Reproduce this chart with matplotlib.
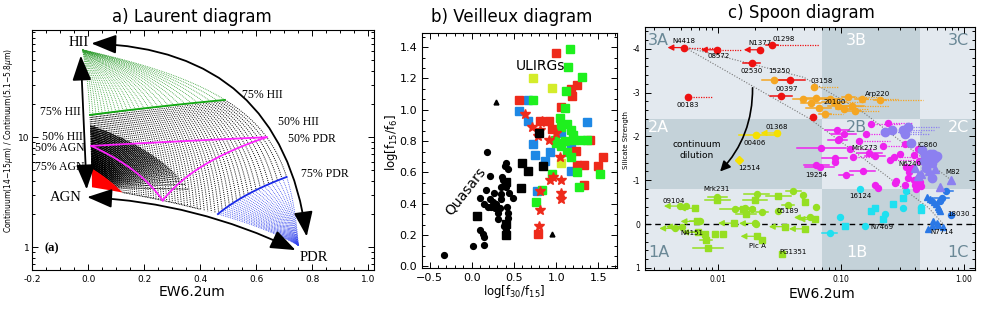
"""Three mid-IR AGN/starburst diagnostic diagrams side by side."""

import numpy as np
import matplotlib

matplotlib.use("Agg")
import matplotlib.pyplot as plt  # noqa: E402
from matplotlib.patches import FancyArrowPatch, Rectangle  # noqa: E402
from matplotlib.ticker import AutoMinorLocator, FixedLocator, LogLocator, NullFormatter  # noqa: E402

plt.rcParams["axes.unicode_minus"] = False

W, H = 981, 316

# ---------------- a) Laurent diagram: end members (AGN, HII, PDR)
END_X = [0.014, -0.02, 0.75]    # EW6.2um
END_Y = [3.5, 62.0, 1.04]       # Continuum(14-15um)/Continuum(5.1-5.8um)
END_W = [11.15, 1.0, 5.82]      # relative weight of each component

# ---------------- b) Veilleux diagram
qso_circ_x = [-0.33, 0.02, 0.15, 0.10, 0.13, 0.15, 0.18, 0.15, 0.21, 0.17, 0.22, 0.23, 0.25,
              0.29, 0.28, 0.31, 0.31, 0.33, 0.34, 0.35, 0.35, 0.37, 0.36, 0.39, 0.41, 0.43,
              0.41, 0.44, 0.49, 0.42, 0.43, 0.43, 0.38, 0.41, 0.26, 0.10, 0.19]
qso_circ_y = [0.07, 0.13, 0.14, 0.23, 0.21, 0.19, 0.73, 0.40, 0.43, 0.49, 0.58, 0.38, 0.41,
              0.40, 0.37, 0.34, 0.30, 0.37, 0.43, 0.46, 0.51, 0.55, 0.57, 0.64, 0.66, 0.62,
              0.51, 0.47, 0.44, 0.38, 0.34, 0.31, 0.26, 0.23, 0.47, 0.44, 0.38]
qso_sq_x = [0.065, 0.40, 0.40, 0.41, 0.58, 0.60, 0.67, 0.84, 0.80]
qso_sq_y = [0.32, 0.54, 0.27, 0.20, 0.50, 0.66, 0.61, 0.64, 0.85]
qso_tri_x = [0.29, 0.95]
qso_tri_y = [1.05, 0.21]
red_sq_x = [1.00, 0.56, 1.25, 1.19, 1.17, 1.06, 0.91, 0.81, 1.40, 1.33, 1.25, 1.50, 1.56,
            1.33, 0.79, 1.06, 1.23, 0.95]
red_sq_y = [1.36, 1.06, 1.16, 1.09, 1.13, 1.02, 0.93, 0.93, 0.81, 0.65, 0.65, 0.64, 0.70,
            0.52, 0.21, 0.78, 0.74, 0.88]
grn_sq_x = [1.16, 1.14, 1.31, 1.12, 0.72, 1.10, 1.04, 1.13, 1.06, 1.17, 0.98, 1.10, 1.21,
            1.29, 1.37, 1.06, 1.13, 1.17, 1.25, 1.27, 1.52, 0.95, 0.83, 0.76, 1.00, 1.20]
grn_sq_y = [1.39, 1.27, 1.21, 1.12, 1.06, 1.01, 0.95, 0.91, 0.89, 0.87, 0.81, 0.80, 0.81,
            0.81, 0.81, 0.77, 0.73, 0.70, 0.60, 0.51, 0.59, 0.59, 0.49, 0.41, 0.79, 0.84]
yel_sq_x = [0.72, 0.95, 1.06]
yel_sq_y = [1.20, 1.14, 0.66]
blu_sq_x = [0.56, 0.67, 0.67, 0.72, 0.75, 0.87, 0.93, 1.06, 1.17, 1.37, 1.18, 0.77]
blu_sq_y = [0.99, 1.06, 0.93, 0.78, 0.71, 0.67, 0.73, 0.85, 0.79, 0.92, 0.61, 0.48]
star_x = [0.63, 0.71, 0.81, 0.83, 0.91, 1.00, 1.04, 0.93, 0.96, 1.06, 1.06, 1.06, 0.81,
          0.81, 0.80, 0.78, 0.88]
star_y = [0.97, 0.89, 0.87, 0.93, 0.81, 0.85, 0.70, 0.55, 0.57, 0.55, 0.47, 0.43, 0.48,
          0.36, 0.26, 0.83, 0.92]

# ---------------- c) Spoon diagram (EW6.2, silicate strength)
# err = solid half-width (dex), dot = dotted extension (dex), lim = upper limit
red_x = [0.00525, 0.0098, 0.0219, 0.0276, 0.0188, 0.0386, 0.0325, 0.0057, 0.059]
red_y = [-4.03, -3.98, -3.98, -4.09, -3.68, -3.29, -2.93, -2.89, -2.44]
red_err = [0, 0, 0, 0.05, 0.07, 0.12, 0.09, 0, 0]
red_dot = [0.3, 0.2, 0, 0.38, 0, 0, 0, 0.2, 0]
red_lim = [1, 1, 1, 0, 0, 0, 0, 0, 0]

org_x = [0.0287, 0.060, 0.049, 0.063, 0.066, 0.074, 0.081, 0.095, 0.115, 0.123, 0.129,
         0.147, 0.207, 0.088, 0.057, 0.105]
org_y = [-3.30, -3.14, -2.85, -2.87, -2.66, -2.51, -2.85, -2.70, -2.89, -2.70, -2.59,
         -2.85, -2.84, -2.78, -2.76, -2.62]
org_err = [0.1, 0, 0.08, 0.1, 0.1, 0.05, 0.1, 0.08, 0.05, 0.1, 0.05, 0.05, 0.05, 0.1, 0.08, 0.06]
org_dot = [0, 0.2, 0, 0.2, 0, 0.15, 0, 0.2, 0.25, 0.3, 0.2, 0.3, 0.35, 0.25, 0, 0.2]

yel_x = [0.0205, 0.030]
yel_y = [-2.03, -2.08]
yel_err = [0.14, 0]
yel_lim = [0, 1]
dia_x = [0.0148]
dia_y = [-1.46]

mag_x = [0.243, 0.093, 0.097, 0.094, 0.141, 0.069, 0.126, 0.089, 0.19, 0.25, 0.30, 0.39,
         0.43, 0.38, 0.15, 0.067, 0.19, 0.28, 0.39, 0.44, 0.45, 0.118, 0.174, 0.063, 0.089,
         0.20, 0.275, 0.34, 0.36, 0.42, 0.33, 0.40, 0.46, 0.42, 0.33, 0.22, 0.17, 0.11,
         0.41, 0.44, 0.35, 0.27, 0.105, 0.16]
mag_y = [-2.30, -2.14, -1.95, -1.91, -1.89, -1.73, -1.52, -1.50, -1.55, -1.46, -1.61, -1.58,
         -1.44, -1.28, -1.20, -1.31, -0.90, -0.98, -1.01, -1.13, -0.86, -1.71, -2.28, -1.35,
         -1.42, -0.83, -0.94, -1.30, -1.18, -1.05, -0.88, -0.90, -1.67, -1.72, -1.83, -1.78,
         -1.62, -1.13, -0.80, -0.96, -1.05, -1.52, -2.05, -2.05]
mag_err = [0, 0.1, 0, 0.08, 0, 0.2, 0, 0.1, 0.08, 0, 0, 0, 0, 0, 0.1, 0.12, 0, 0, 0, 0, 0,
           0, 0, 0.1, 0, 0, 0, 0, 0, 0, 0, 0, 0, 0, 0, 0, 0.1, 0.06, 0, 0, 0, 0, 0.1, 0]
mag_dot = [0.2, 0, 0, 0, 0.25, 0, 0.2, 0, 0, 0.2, 0, 0, 0, 0, 0, 0, 0, 0, 0, 0, 0, 0.2,
           0.25, 0, 0, 0, 0, 0, 0, 0, 0, 0, 0, 0, 0, 0.2, 0, 0, 0, 0, 0, 0.2, 0, 0.15]

pur_x = [0.229, 0.26, 0.32, 0.33, 0.37, 0.46, 0.48, 0.53, 0.56, 0.58, 0.55, 0.47, 0.49,
         0.55, 0.52, 0.60, 0.50, 0.35]
pur_y = [-2.10, -2.14, -2.14, -2.06, -1.84, -1.69, -1.58, -1.61, -1.61, -1.50, -1.39, -1.43,
         -1.28, -1.05, -1.50, -1.55, -1.45, -2.22]
pur_dot = [0.3, 0, 0.25, 0.2, 0, 0, 0, 0, 0, 0, 0, 0, 0, 0, 0, 0, 0, 0.25]
pur_tri_x = [0.79, 0.64, 0.42, 0.40, 0.52, 0.58, 0.45]
pur_tri_y = [-1.01, -0.85, -1.09, -1.28, -1.20, -1.25, -1.15]

cyan_x = [0.143, 0.34, 0.32, 0.228, 0.098, 0.158, 0.081, 0.45]
cyan_y = [-0.80, -0.75, -0.375, -0.225, -0.15, 0.04, 0.20, -0.40]
cyan_err = [0, 0, 0, 0, 0, 0, 0.06, 0]
cyan_sq_x = [0.32, 0.266, 0.19, 0.175, 0.107, 0.22, 0.45]
cyan_sq_y = [-0.60, -0.45, -0.375, -0.30, 0.04, -0.11, -0.33]

blu_tri_x = [0.50, 0.53, 0.55, 0.57, 0.59, 0.61, 0.63, 0.64, 0.56, 0.60, 0.51, 0.67, 0.55, 0.62]
blu_tri_y = [-0.62, -0.58, -0.55, -0.50, -0.45, -0.40, -0.35, -0.30, -0.08, -0.03, 0.11,
             0.07, 0.05, 0.02]
blu_x = [0.66, 0.64, 0.72, 0.79]
blu_y = [-0.60, -0.52, -0.75, -0.21]
blu_err = [0.06, 0, 0.05, 0]

lg_x = [0.0049, 0.0055, 0.0099, 0.0137, 0.0166, 0.019, 0.0227, 0.0206, 0.037, 0.041, 0.049,
        0.063, 0.056, 0.020, 0.0205, 0.0051, 0.0045, 0.031, 0.0071]
lg_y = [-0.41, -0.41, -0.62, -0.34, -0.375, -0.34, -0.285, -0.675, -0.435, -0.75, -0.66,
        -0.39, -0.15, -0.015, 0.0, 0.06, 0.10, -0.29, -0.06]
lg_err = [0, 0, 0.08, 0.12, 0.08, 0, 0.05, 0.1, 0.05, 0.06, 0, 0, 0, 0, 0, 0, 0, 0, 0]
lg_lim = [1, 0, 0, 0, 0, 0, 0, 0, 0, 0, 0, 0, 1, 1, 0, 1, 1, 0, 0]
lg_sq_x = [0.0065, 0.0099, 0.0169, 0.020, 0.031, 0.051, 0.061, 0.0206, 0.0227, 0.033, 0.035,
           0.051, 0.0067, 0.0069, 0.00785, 0.0095, 0.0109, 0.0080, 0.0083, 0.0135, 0.016]
lg_sq_y = [-0.36, -0.56, -0.225, -0.56, -0.64, -0.51, -0.11, 0.28, 0.36, 0.69, 0.06, 0.11,
           -0.06, 0.19, 0.225, 0.225, 0.225, 0.375, 0.54, -0.02, -0.34]
lg_sq_err = [0, 0.1, 0.08, 0.1, 0.1, 0, 0, 0, 0, 0, 0, 0, 0.05, 0.06, 0, 0, 0, 0.05, 0.12, 0, 0.05]
lg_sq_lim = [1, 0, 0, 0, 0, 0, 1, 1, 0, 0, 1, 1, 1, 1, 0, 0, 0, 0, 0, 1, 0]

upper_mix_x = [0.00525, 0.05, 0.152, 0.79]
upper_mix_y = [-4.05, -3.35, -2.55, -1.0]
lower_mix_x = [0.00525, 0.056, 0.152, 0.513, 0.68]
lower_mix_y = [-4.05, -2.4, -1.5, -0.375, 0.0]

src_names = ["N4418", "08572", "N1377", "01298", "02530", "15250", "03158", "00397", "00183",
             "Arp220", "20100", "01368", "00406", "12514", "Mrk273", "IC860", "N6240", "19254",
             "M82", "16124", "18030", "N7469", "N7714", "Mrk231", "09104", "05189", "N4151",
             "Pic A", "PG1351"]
src_x = [0.00525, 0.0102, 0.0219, 0.034, 0.0188, 0.0318, 0.0697, 0.036, 0.0057, 0.20, 0.089,
         0.030, 0.020, 0.018, 0.157, 0.51, 0.36, 0.063, 0.81, 0.143, 0.90, 0.217, 0.66,
         0.0098, 0.0044, 0.037, 0.0061, 0.021, 0.041]
src_y = [-4.19, -3.83, -4.14, -4.22, -3.50, -3.49, -3.26, -3.08, -2.72, -2.96, -2.78, -2.21,
         -1.86, -1.29, -1.73, -1.80, -1.37, -1.11, -1.19, -0.64, -0.23, 0.06, 0.19, -0.81,
         -0.525, -0.30, 0.21, 0.51, 0.64]

COL_EDGES = [0.00255, 0.07, 0.44, 1.23]
ROW_EDGES = [1.05, -0.8, -2.4, -4.5]
ROW_NAMES = ["1", "2", "3"]
COL_NAMES = ["A", "B", "C"]
COL_LABEL_X = [0.0033, 0.134, 0.90]
ROW_LABEL_Y = [0.64, -2.21, -4.19]


def box(left, right, top, bottom):
    return [left / W, 1 - bottom / H, (right - left) / W, (bottom - top) / H]


def mix(fa, fh, fp):
    fa, fh, fp = np.broadcast_arrays(np.asarray(fa, float), np.asarray(fh, float),
                                     np.asarray(fp, float))
    wa, wh, wp = fa * END_W[0], fh * END_W[1], fp * END_W[2]
    tot = wa + wh + wp
    x = (wa * END_X[0] + wh * END_X[1] + wp * END_X[2]) / tot
    y = (wa * END_Y[0] + wh * END_Y[1] + wp * END_Y[2]) / tot
    return x, y


def in_ticks(ax, size=6.5):
    ax.tick_params(which="both", direction="in", top=True, right=True, labelsize=size,
                   width=0.7)
    ax.tick_params(which="major", length=4)
    ax.tick_params(which="minor", length=2)
    for s in ax.spines.values():
        s.set_linewidth(0.8)


fig = plt.figure(figsize=(W / 100, H / 100), dpi=100)

# ======================= a) Laurent
ax = fig.add_axes(box(32, 374, 30, 270))
ax.set_yscale("log")
ax.set_xlim(-0.2, 1.02)
ax.set_ylim(0.62, 94)
v = np.linspace(0, 1, 50)
dots = (0, (1, 1.2))
# lines of constant AGN:PDR ratio, green where HII >= 75 %, black below
for r in np.linspace(0, 1, 30):
    fh = 0.75 + 0.25 * v
    ax.plot(*mix((1 - fh) * r, fh, (1 - fh) * (1 - r)), color="#2f9e2f", lw=0.6, ls=dots)
for r in np.linspace(0, 1, 70):
    tmax = min(1.0, 0.75 / max(r, 1e-9), 0.75 / max(1 - r, 1e-9))
    tt = np.linspace(0.25, tmax, 60)
    ax.plot(*mix(tt * r, 1 - tt, tt * (1 - r)), color="k", lw=0.7, ls=dots)
# lines of constant HII:PDR ratio leaving the AGN corner (denser on the HII side)
for s in np.linspace(0, 1, 140) ** 0.35:
    tt = np.linspace(0.25, 0.68, 30)
    ax.plot(*mix(1 - tt, tt * s, tt * (1 - s)), color="k", lw=0.7, ls=(0, (1, 0.7)))
# lines of constant AGN:HII ratio where PDR >= 75 %
for q in np.linspace(0, 1, 26):
    fp = 0.75 + 0.25 * v
    ax.plot(*mix((1 - fp) * q, (1 - fp) * (1 - q), fp), color="#3344ee", lw=0.6, ls=dots)
# AGN >= 75 %
u = np.linspace(1, 0.75, 10)
edge_h = mix(u, 1 - u, 0 * u)
bound = mix(0.75 + 0 * v, 0.25 * v[::-1], 0.25 * v)
edge_p = mix(u[::-1], 0 * u, 1 - u[::-1])
ax.fill(np.r_[edge_h[0], bound[0], edge_p[0]], np.r_[edge_h[1], bound[1], edge_p[1]],
        color="#ff0000", lw=0, zorder=3)
ax.plot(*mix(0.25 * (1 - v), 0.75 + 0 * v, 0.25 * v), color="#11aa11", lw=1.3, zorder=4)
ax.plot(*mix(0.25 * (1 - v), 0.25 * v, 0.75 + 0 * v), color="#1a2ae8", lw=1.3, zorder=4)
for lines in [(0.5 * (1 - v), 0.5 + 0 * v, 0.5 * v), (0.5 + 0 * v, 0.5 * (1 - v), 0.5 * v),
              (0.5 * (1 - v), 0.5 * v, 0.5 + 0 * v)]:
    ax.plot(*mix(*lines), color="#ff22ff", lw=1.3, zorder=4)

head = "<|-|>,head_length=1.1,head_width=0.42"
for a, b, rad in [((0.012, 71), (0.78, 1.25), -0.42), ((-0.003, 2.85), (0.74, 0.94), -0.1),
                  ((-0.026, 55), (-0.005, 3.35), 0.0)]:
    ax.add_patch(FancyArrowPatch(a, b, connectionstyle=f"arc3,rad={rad}", arrowstyle=head,
                                 mutation_scale=14, color="k", lw=1.3, zorder=5,
                                 shrinkA=0, shrinkB=0))
serif = dict(family="Liberation Serif", color="k")
ax.text(-0.032, 73, "HII", ha="center", va="center", fontsize=10.5, **serif)
ax.text(-0.08, 2.85, "AGN", ha="center", va="center", fontsize=10.5, **serif)
ax.text(0.805, 0.81, "PDR", ha="center", va="center", fontsize=10.5, **serif)
for txt, x, y in [("75% HII", 0.548, 24), ("50% HII", 0.676, 13.7), ("50% PDR", 0.715, 9.6),
                  ("75% PDR", 0.758, 4.6)]:
    ax.text(x, y, txt, ha="left", va="center", fontsize=8.5, **serif)
for txt, x, y in [("75% HII", -0.025, 16.9), ("50% HII", -0.02, 10.0),
                  ("50% AGN", -0.011, 7.9), ("75% AGN", -0.011, 5.3)]:
    ax.text(x, y, txt, ha="right", va="center", fontsize=8.5, **serif)
ax.text(-0.128, 0.98, "(a)", ha="center", va="center", fontsize=9, fontweight="bold", **serif)
ax.xaxis.set_major_locator(FixedLocator([-0.2, 0.0, 0.2, 0.4, 0.6, 0.8, 1.0]))
ax.xaxis.set_minor_locator(AutoMinorLocator(4))
ax.yaxis.set_major_locator(FixedLocator([1, 10]))
ax.yaxis.set_major_formatter(plt.FuncFormatter(lambda val, _: f"{val:g}"))
ax.yaxis.set_minor_locator(LogLocator(subs=np.arange(2, 10)))
ax.yaxis.set_minor_formatter(NullFormatter())
in_ticks(ax, 6.5)
ax.tick_params(axis="y", pad=2)
fig.text(9 / W, 1 - 140 / H, r"Continuum(14$-$15$\mu$m) / Continuum(5.1$-$5.8$\mu$m)",
         rotation=90, ha="center", va="center", fontsize=5.5)

# ======================= b) Veilleux
bx = fig.add_axes(box(422, 617, 33, 268))
bx.set_xlim(-0.59, 1.72)
bx.set_ylim(-0.01, 1.49)
ms_sq = 5.2
bx.plot(blu_sq_x, blu_sq_y, "s", color="#1e88e5", ms=ms_sq, zorder=3)
bx.plot(red_sq_x, red_sq_y, "s", color="#ee2a1b", ms=ms_sq, zorder=3)
bx.plot(grn_sq_x, grn_sq_y, "s", color="#1ef01e", ms=ms_sq, zorder=3)
bx.plot(yel_sq_x, yel_sq_y, "s", color="#d4ec2a", ms=ms_sq, zorder=3)
bx.plot(star_x, star_y, "*", color="#ee2a1b", ms=7.5, zorder=4)
bx.plot(qso_circ_x, qso_circ_y, "o", color="k", ms=4.2, zorder=4)
bx.plot(qso_sq_x, qso_sq_y, "s", color="k", ms=ms_sq, zorder=4)
bx.plot(qso_tri_x, qso_tri_y, "^", color="k", ms=3.5, zorder=4)
bx.text(0.81, 1.28, "ULIRGs", ha="center", va="center", fontsize=10, zorder=5)
bx.text(-0.07, 0.48, "Quasars", ha="center", va="center", fontsize=10, rotation=52, zorder=5)
bx.xaxis.set_major_locator(FixedLocator([-0.5, 0.0, 0.5, 1.0, 1.5]))
bx.xaxis.set_major_formatter(plt.FuncFormatter(lambda val, _: f"{val:.1f}".replace("-", "\u2212")))
bx.xaxis.set_minor_locator(AutoMinorLocator(5))
bx.yaxis.set_major_locator(FixedLocator([0.0, 0.2, 0.4, 0.6, 0.8, 1.0, 1.2, 1.4]))
bx.yaxis.set_major_formatter(plt.FuncFormatter(lambda val, _: f"{val:.1f}"))
bx.yaxis.set_minor_locator(AutoMinorLocator(3))
in_ticks(bx, 8)
bx.tick_params(which="major", length=4.5)
fig.text(514 / W, 1 - 292 / H, r"log[f$_{30}$/f$_{15}$]", ha="center", va="center", fontsize=8.5)
fig.text(392 / W, 1 - 143 / H, r"log[f$_{15}$/f$_{6}$]", ha="center", va="center",
         fontsize=8.5, rotation=90)

# ======================= c) Spoon
cx = fig.add_axes(box(645, 975, 27, 270))
cx.set_xscale("log")
cx.set_xlim(COL_EDGES[0], COL_EDGES[-1])
cx.set_ylim(ROW_EDGES[0], ROW_EDGES[-1])
light, dark = "#e3e9ef", "#c4d2d9"
for i in range(3):
    for j in range(3):
        shade = dark if (i + j) % 2 else light
        cx.add_patch(Rectangle((COL_EDGES[j], ROW_EDGES[i + 1]),
                               COL_EDGES[j + 1] - COL_EDGES[j],
                               ROW_EDGES[i] - ROW_EDGES[i + 1],
                               color=shade, lw=0, zorder=0))
        cx.text(COL_LABEL_X[j], ROW_LABEL_Y[i], ROW_NAMES[i] + COL_NAMES[j],
                ha="center", va="center", fontsize=11.5,
                color="white" if (i + j) % 2 else "#6a8896", zorder=1)
cx.axhline(0, color="k", ls=(0, (4, 3)), lw=1.0, zorder=1)
cx.plot(upper_mix_x, upper_mix_y, color="#777777", ls=(0, (1, 1.5)), lw=0.8, zorder=1)
cx.plot(lower_mix_x, lower_mix_y, color="#777777", ls=(0, (1, 1.5)), lw=0.8, zorder=1)


def spoon_group(xs, ys, color, marker, ms, err=None, dot=None, lim=None):
    n = len(xs)
    err = err or [0] * n
    dot = dot or [0] * n
    lim = lim or [0] * n
    for x, y, e, d, lm in zip(xs, ys, err, dot, lim):
        if d:
            cx.plot([x, x * 10 ** d], [y, y], color=color, lw=0.9, ls=(0, (1, 1)), zorder=2)
        if e:
            cx.plot([x / 10 ** e, x * 10 ** e], [y, y], color=color, lw=1.1, zorder=2)
        if lm:
            cx.annotate("", xy=(x / 10 ** 0.13, y), xytext=(x, y), zorder=2,
                        arrowprops=dict(arrowstyle="-|>,head_length=0.35,head_width=0.18",
                                        color=color, lw=0.9, shrinkA=0, shrinkB=0))
    cx.plot(xs, ys, ls="none", marker=marker, ms=ms, color=color, mec=color, zorder=3)


spoon_group(lg_x, lg_y, "#96df22", "o", 4.3, lg_err, None, lg_lim)
spoon_group(lg_sq_x, lg_sq_y, "#96df22", "s", 4.0, lg_sq_err, None, lg_sq_lim)
spoon_group(cyan_x, cyan_y, "#20e0f0", "o", 4.3, cyan_err)
spoon_group(cyan_sq_x, cyan_sq_y, "#20e0f0", "s", 4.0)
spoon_group(blu_tri_x, blu_tri_y, "#2a78e6", "^", 4.8)
spoon_group(blu_x, blu_y, "#2a78e6", "o", 4.3, blu_err)
spoon_group(mag_x, mag_y, "#ee22ee", "o", 4.3, mag_err, mag_dot)
spoon_group(pur_x, pur_y, "#8c80f0", "o", 6.0, None, pur_dot)
spoon_group(pur_tri_x, pur_tri_y, "#8c80f0", "^", 6.0)
spoon_group(org_x, org_y, "#f5a623", "o", 4.5, org_err, org_dot)
spoon_group(yel_x, yel_y, "#f5e000", "o", 4.5, yel_err, None, yel_lim)
spoon_group(dia_x, dia_y, "#f5e000", "D", 4.0)
spoon_group(red_x, red_y, "#ee1111", "o", 4.5, red_err, red_dot, red_lim)
for name, x, y in zip(src_names, src_x, src_y):
    cx.text(x, y, name, ha="center", va="center", fontsize=5, zorder=6)
cx.annotate("", xy=(0.0104, -1.20), xytext=(0.0191, -3.11), zorder=6,
            arrowprops=dict(arrowstyle="-|>,head_length=0.6,head_width=0.3", color="k",
                            lw=1.2, connectionstyle="arc3,rad=-0.2", shrinkA=0, shrinkB=0))
cx.text(0.0067, -1.69, "continuum\ndilution", ha="center", va="center", fontsize=6.5,
        linespacing=1.2, zorder=6)
cx.xaxis.set_major_locator(FixedLocator([0.01, 0.1, 1.0]))
cx.xaxis.set_major_formatter(plt.FuncFormatter(lambda val, _: f"{val:.2f}"))
cx.xaxis.set_minor_locator(LogLocator(subs=np.arange(2, 10)))
cx.xaxis.set_minor_formatter(NullFormatter())
cx.yaxis.set_major_locator(FixedLocator([-4, -3, -2, -1, 0, 1]))
cx.yaxis.set_minor_locator(AutoMinorLocator(5))
in_ticks(cx, 5.5)
fig.text(626 / W, 1 - 140 / H, "Silicate Strength", rotation=90, ha="center", va="center",
         fontsize=5)

# titles and x labels
fig.text(192 / W, 1 - 17 / H, "a) Laurent diagram", ha="center", va="center", fontsize=12)
fig.text(512 / W, 1 - 17 / H, "b) Veilleux diagram", ha="center", va="center", fontsize=12)
fig.text(801 / W, 1 - 13 / H, "c) Spoon diagram", ha="center", va="center", fontsize=12)
fig.text(192 / W, 1 - 292 / H, "EW6.2um", ha="center", va="center", fontsize=10)
fig.text(822 / W, 1 - 294 / H, "EW6.2um", ha="center", va="center", fontsize=10)

fig.savefig("out.png", dpi=100)
